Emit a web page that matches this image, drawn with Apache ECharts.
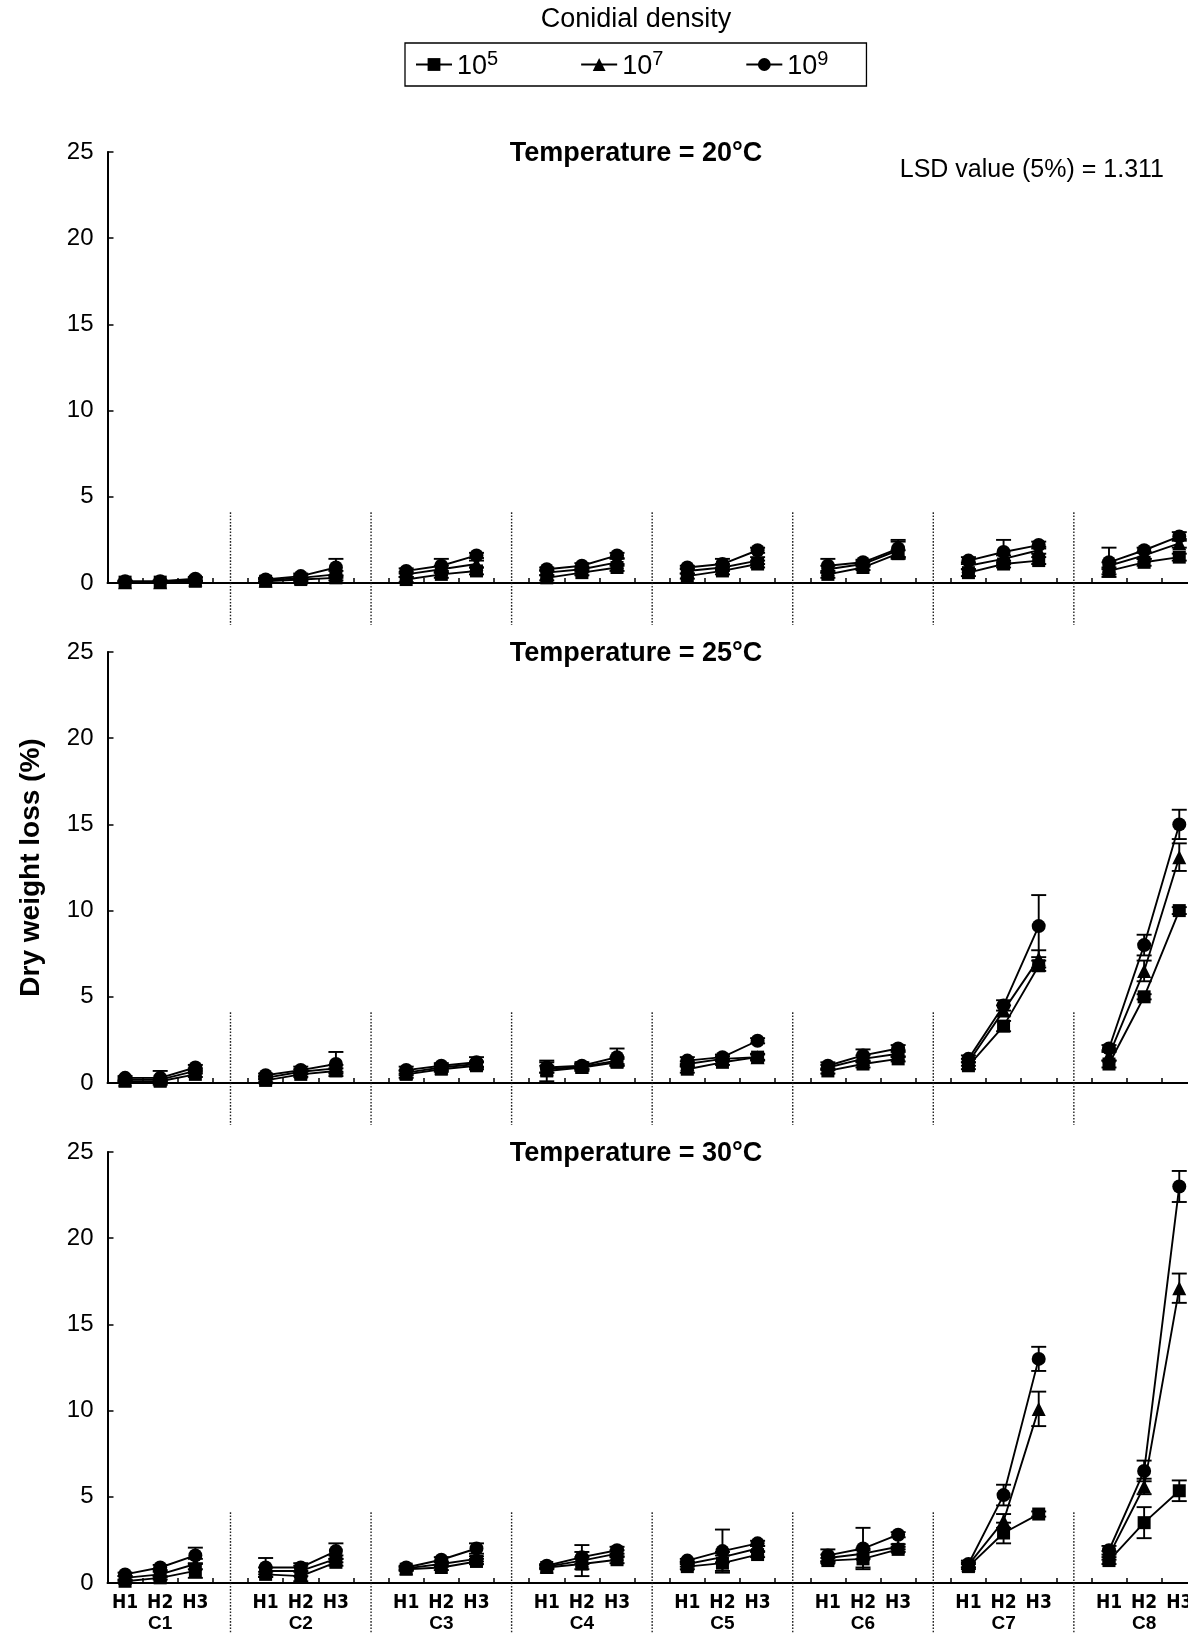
<!DOCTYPE html>
<html>
<head>
<meta charset="utf-8">
<script src="https://cdn.jsdelivr.net/npm/echarts@6/dist/echarts.min.js"></script>
<style>
  html, body { margin: 0; padding: 0; background: #ffffff; overflow: hidden; }
  /* the last panel column runs past the right edge of the page, as in the printed figure */
  #chart { width: 1250px; height: 1633px; }
</style>
</head>
<body>
<div id="chart"></div>
<script>
// Cultivars (groups on the x axis) and harvest stages within each group
const cultivars = ['C1', 'C2', 'C3', 'C4', 'C5', 'C6', 'C7', 'C8'];
const harvests = ['H1', 'H2', 'H3'];
const temperatureTitles = ['Temperature = 20°C', 'Temperature = 25°C', 'Temperature = 30°C'];
const densityExponents = ['5', '7', '9'];
const yTicks = [0, 5, 10, 15, 20, 25];

// Mean dry weight loss (%), listed H1,H2,H3 for C1..C8
const t20_d5 = [0.05,0.05,0.1, 0.1,0.2,0.3, 0.2,0.5,0.7, 0.3,0.6,0.9, 0.4,0.7,1.1, 0.5,0.9,1.7, 0.6,1.1,1.3, 0.7,1.2,1.5];
const t20_d7 = [0.05,0.05,0.2, 0.15,0.3,0.5, 0.5,0.8,1.1, 0.6,0.8,1.2, 0.7,0.9,1.3, 0.8,1.1,1.9, 1.0,1.4,1.9, 1.0,1.6,2.3];
const t20_d9 = [0.1,0.1,0.25, 0.2,0.4,0.9, 0.7,1.0,1.6, 0.8,1.0,1.6, 0.9,1.1,1.9, 1.0,1.2,2.0, 1.3,1.8,2.2, 1.2,1.9,2.7];

const t25_d5 = [0.1,0.1,0.5, 0.15,0.5,0.7, 0.5,0.8,1.0, 0.7,0.9,1.2, 0.8,1.2,1.5, 0.7,1.1,1.4, 1.0,3.3,6.8, 1.1,5.0,10.0];
const t25_d7 = [0.2,0.2,0.7, 0.3,0.65,0.85, 0.6,0.9,1.1, 0.8,0.95,1.3, 1.1,1.4,1.5, 0.9,1.4,1.7, 1.2,4.2,7.2, 1.6,6.5,13.1];
const t25_d9 = [0.3,0.3,0.9, 0.45,0.75,1.1, 0.75,1.0,1.2, 0.9,1.0,1.5, 1.3,1.5,2.45, 1.0,1.6,2.0, 1.4,4.5,9.1, 2.0,8.0,15.0];

const t30_d5 = [0.1,0.3,0.7, 0.5,0.4,1.2, 0.8,0.9,1.25, 0.9,1.1,1.35, 0.95,1.15,1.65, 1.3,1.4,1.95, 0.95,2.9,4.0, 1.3,3.5,5.35];
const t30_d7 = [0.3,0.5,1.1, 0.7,0.7,1.4, 0.85,1.1,1.4, 0.95,1.3,1.7, 1.1,1.5,2.0, 1.45,1.7,2.1, 1.05,3.6,10.1, 1.6,5.6,17.1];
const t30_d9 = [0.5,0.9,1.6, 0.9,0.9,1.85, 0.9,1.35,2.0, 1.0,1.5,1.9, 1.3,1.85,2.3, 1.6,2.0,2.8, 1.1,5.1,13.0, 1.9,6.5,23.0];

// Standard errors, same layout
const t20_d5_se = [0.05,0.05,0.05, 0.1,0.1,0.15, 0.15,0.2,0.2, 0.15,0.15,0.2, 0.15,0.2,0.2, 0.2,0.15,0.2, 0.2,0.2,0.2, 0.2,0.2,0.2];
const t20_d7_se = [0.05,0.05,0.1, 0.1,0.15,0.2, 0.15,0.2,0.2, 0.15,0.15,0.2, 0.15,0.2,0.2, 0.2,0.15,0.5, 0.2,0.2,0.2, 0.2,0.2,0.25];
const t20_d9_se = [0.05,0.05,0.1, 0.1,0.15,0.5, 0.15,0.4,0.15, 0.1,0.15,0.15, 0.1,0.3,0.15, 0.4,0.15,0.5, 0.2,0.7,0.2, 0.85,0.15,0.25];

const t25_d5_se = [0.05,0.05,0.15, 0.1,0.15,0.15, 0.2,0.15,0.2, 0.6,0.2,0.2, 0.2,0.15,0.2, 0.15,0.2,0.15, 0.2,0.3,0.3, 0.2,0.15,0.2];
const t25_d7_se = [0.1,0.1,0.15, 0.1,0.15,0.2, 0.15,0.15,0.15, 0.2,0.15,0.2, 0.15,0.15,0.15, 0.15,0.2,0.2, 0.2,0.3,0.5, 0.3,0.6,0.8];
const t25_d9_se = [0.1,0.4,0.15, 0.1,0.2,0.7, 0.2,0.15,0.3, 0.3,0.2,0.5, 0.2,0.15,0.15, 0.2,0.35,0.2, 0.2,0.3,1.8, 0.2,0.6,0.85];

const t30_d5_se = [0.05,0.1,0.4, 0.15,0.3,0.2, 0.1,0.15,0.15, 0.1,0.7,0.2, 0.15,0.45,0.15, 0.15,0.5,0.15, 0.15,0.6,0.15, 0.2,0.9,0.6];
const t30_d7_se = [0.1,0.15,0.3, 0.2,0.3,0.2, 0.1,0.15,0.15, 0.1,0.2,0.2, 0.15,0.3,0.15, 0.2,0.3,0.15, 0.15,0.4,1.0, 0.25,0.45,0.85];
const t30_d9_se = [0.1,0.15,0.45, 0.55,0.25,0.45, 0.1,0.15,0.3, 0.1,0.7,0.2, 0.1,1.25,0.15, 0.35,1.2,0.15, 0.2,0.6,0.7, 0.25,0.6,0.9];

const lsdText = 'LSD value (5%) = 1.311';

// ---------------------------------------------------------------------
const panels = [
  { means: [t20_d5, t20_d7, t20_d9], errors: [t20_d5_se, t20_d7_se, t20_d9_se] },
  { means: [t25_d5, t25_d7, t25_d9], errors: [t25_d5_se, t25_d7_se, t25_d9_se] },
  { means: [t30_d5, t30_d7, t30_d9], errors: [t30_d5_se, t30_d7_se, t30_d9_se] }
];
const symbols = ['rect', 'triangle', 'circle'];
const symbolSizes = [13, 14, 14];
const densityNames = densityExponents.map(e => '10^' + e);

// Each cultivar takes four slots: H1, H2, H3 and an empty spacer slot
const SLOTS = harvests.length + 1;
const categories = [];
cultivars.forEach(c => {
  harvests.forEach(h => categories.push(c + '|' + h));
  categories.push(c + '|');
});
const slotOf = (g, h) => g * SLOTS + h;
const spacerSlots = cultivars.slice(0, -1).map((c, g) => g * SLOTS + harvests.length);

function toSlots(values) {
  const out = categories.map(() => null);
  cultivars.forEach((c, g) => harvests.forEach((h, k) => {
    out[slotOf(g, k)] = values[g * harvests.length + k];
  }));
  return out;
}
function toErrorBars(values, se) {
  const out = [];
  cultivars.forEach((c, g) => harvests.forEach((h, k) => {
    const i = g * harvests.length + k;
    out.push([slotOf(g, k), values[i] - se[i], values[i] + se[i]]);
  }));
  return out;
}

const gridLeft = 107.5;
const slotWidth = 35.14;
const gridTops = [152, 652, 1152];
const gridHeight = 431;
const black = '#000000';
const sansFont = '"Liberation Sans", Arial, Helvetica, sans-serif';
const narrowFont = '"Liberation Sans Narrow", "Arial Narrow", "DejaVu Sans Condensed", sans-serif';

const grids = [], xAxes = [], yAxes = [], series = [];

panels.forEach((panel, p) => {
  const isBottom = p === panels.length - 1;
  grids.push({ left: gridLeft, top: gridTops[p], width: slotWidth * categories.length, height: gridHeight });
  xAxes.push({
    type: 'category', gridIndex: p, data: categories, boundaryGap: true,
    axisLine: { lineStyle: { color: black, width: 2 } },
    axisTick: { show: true, inside: true, length: 5, interval: 0, lineStyle: { color: black, width: 1.5 } },
    axisLabel: isBottom ? {
      show: true, interval: 0, margin: 10,
      formatter: v => {
        const [c, h] = v.split('|');
        if (!h) return '';
        return '{h|' + h + '}\n{c|' + (h === harvests[1] ? c : ' ') + '}';
      },
      rich: {
        h: { fontFamily: narrowFont, fontWeight: 'bold', fontSize: 19, lineHeight: 20, color: black },
        c: { fontFamily: sansFont, fontWeight: 'bold', fontSize: 19, lineHeight: 21, color: black }
      }
    } : { show: false },
    splitLine: { show: false }
  });
  yAxes.push({
    type: 'value', gridIndex: p, min: 0, max: 25, interval: 5,
    axisLine: { show: true, lineStyle: { color: black, width: 2 } },
    axisTick: { show: true, inside: true, length: 6, lineStyle: { color: black, width: 1.5 } },
    axisLabel: { color: black, fontFamily: sansFont, fontSize: 24, margin: 14,
      formatter: v => yTicks.indexOf(v) >= 0 ? String(v) : '' },
    splitLine: { show: false },
    name: p === 1 ? 'Dry weight loss (%)' : '',
    nameLocation: 'middle', nameRotate: 90, nameGap: 62,
    nameTextStyle: { color: black, fontFamily: sansFont, fontWeight: 'bold', fontSize: 28 }
  });

  // dotted separators between cultivars
  series.push({
    type: 'custom', xAxisIndex: p, yAxisIndex: p, silent: true, z: 1, clip: false,
    data: spacerSlots.map(s => [s, 4.1]),
    encode: { x: 0, y: 1 },
    renderItem: (params, api) => {
      const top = api.coord([api.value(0), api.value(1)]);
      const base = api.coord([api.value(0), 0]);
      const below = isBottom ? 52 : 42;
      return {
        type: 'line',
        shape: { x1: top[0], y1: top[1], x2: base[0], y2: base[1] + below },
        style: { stroke: '#222', lineWidth: 1.4, lineDash: [1.6, 1.6] }
      };
    }
  });

  panel.means.forEach((vals, d) => {
    // error bars (mean ± SE)
    series.push({
      type: 'custom', xAxisIndex: p, yAxisIndex: p, silent: true, z: 2, clip: false,
      data: toErrorBars(vals, panel.errors[d]),
      encode: { x: 0, y: [1, 2] },
      renderItem: (params, api) => {
        const lo = api.coord([api.value(0), api.value(1)]);
        const hi = api.coord([api.value(0), api.value(2)]);
        const w = 7.5;
        const st = { stroke: black, lineWidth: 1.9 };
        return {
          type: 'group',
          children: [
            { type: 'line', shape: { x1: lo[0], y1: lo[1], x2: hi[0], y2: hi[1] }, style: st },
            { type: 'line', shape: { x1: hi[0] - w, y1: hi[1], x2: hi[0] + w, y2: hi[1] }, style: st },
            { type: 'line', shape: { x1: lo[0] - w, y1: lo[1], x2: lo[0] + w, y2: lo[1] }, style: st }
          ]
        };
      }
    });
    series.push({
      type: 'line', name: densityNames[d], xAxisIndex: p, yAxisIndex: p, z: 3,
      data: toSlots(vals), connectNulls: false,
      symbol: symbols[d], symbolSize: symbolSizes[d], showAllSymbol: true,
      lineStyle: { color: black, width: 1.9 },
      itemStyle: { color: black, borderColor: black, borderWidth: 0 },
      emphasis: { disabled: true },
      animation: false
    });
  });
});

const graphics = temperatureTitles.map((t, p) => ({
  type: 'text', x: 636, y: gridTops[p] + 2,
  style: { text: t, font: 'bold 27px ' + sansFont, fill: black, textAlign: 'center', textVerticalAlign: 'middle' }
}));
graphics.push({
  type: 'text', x: 1164, y: 170,
  style: { text: lsdText, font: '25px ' + sansFont, fill: black, textAlign: 'right', textVerticalAlign: 'middle' }
});
graphics.push({
  type: 'text', x: 636, y: 20,
  style: { text: 'Conidial density', font: '27px ' + sansFont, fill: black, textAlign: 'center', textVerticalAlign: 'middle' }
});

const chart = echarts.init(document.getElementById('chart'), null, { renderer: 'canvas' });
chart.setOption({
  backgroundColor: '#ffffff',
  animation: false,
  grid: grids,
  xAxis: xAxes,
  yAxis: yAxes,
  legend: {
    data: densityNames,
    left: 405, top: 43,
    orient: 'horizontal',
    itemWidth: 36, itemHeight: 16, itemGap: 82,
    padding: [6, 38, 6, 10],
    borderColor: black, borderWidth: 1.3,
    selectedMode: false,
    formatter: n => '{b|10}{s|' + n.split('^')[1] + '}',
    textStyle: {
      color: black, fontFamily: sansFont,
      rich: {
        b: { fontSize: 27, lineHeight: 31, verticalAlign: 'bottom', fontFamily: sansFont, color: black },
        s: { fontSize: 20, lineHeight: 31, verticalAlign: 'top', fontFamily: sansFont, color: black }
      }
    }
  },
  graphic: graphics,
  series: series
});
</script>
</body>
</html>
